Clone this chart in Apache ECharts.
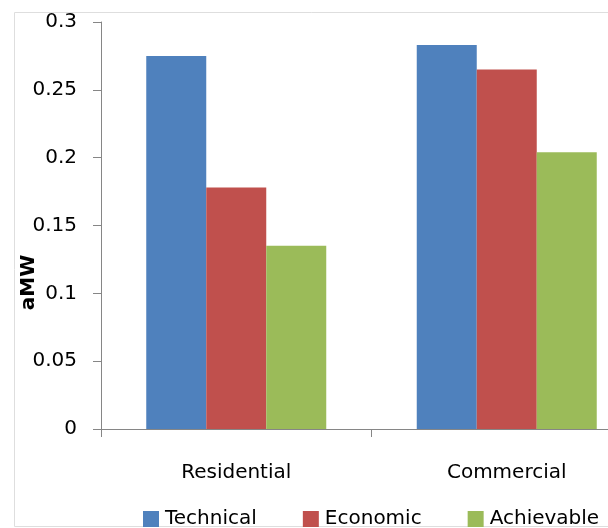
<!DOCTYPE html>
<html><head><meta charset="utf-8">
<script src="https://cdn.jsdelivr.net/npm/echarts@6/dist/echarts.min.js"></script>
<style>html,body{margin:0;padding:0;background:#fff}#c{width:608px;height:528px}</style>
</head><body><div id="c"></div>
<script>
var categories = ['Residential', 'Commercial'];
var technical = [0.275, 0.283];
var economic = [0.178, 0.265];
var achievable = [0.135, 0.204];
var seriesNames = ['Technical', 'Economic', 'Achievable'];

var font = 'DejaVu Sans';
var chart = echarts.init(document.getElementById('c'), null, {renderer: 'canvas'});
chart.setOption({
  animation: false,
  backgroundColor: '#fff',
  color: ['#4F81BD', '#C0504D', '#9BBB59'],
  textStyle: {fontFamily: font},
  graphic: [{
    type: 'rect', silent: true, z: -1,
    shape: {x: 14.5, y: 12.5, width: 700, height: 514},
    style: {fill: '#fff', stroke: '#dedede', lineWidth: 1}
  }],
  grid: {left: 101, top: 22, width: 541, height: 407, containLabel: false, outerBoundsMode: 'none'},
  legend: {
    data: seriesNames, left: 143, top: 509, padding: 0, itemWidth: 16, itemHeight: 16,
    itemGap: 46, icon: 'rect',
    textStyle: {fontFamily: font, fontSize: 20, color: '#000', padding: [0, 0, 0, 1]}
  },
  xAxis: {
    type: 'category', data: categories,
    axisLine: {lineStyle: {color: '#868686', width: 1}},
    axisTick: {show: true, length: 8, lineStyle: {color: '#868686'}},
    axisLabel: {fontFamily: font, fontSize: 20, color: '#000', margin: 34}
  },
  yAxis: {
    type: 'value', min: 0, max: 0.3, interval: 0.05,
    name: 'aMW', nameLocation: 'middle', nameGap: 62, nameMoveOverlap: false,
    nameTextStyle: {fontFamily: font, fontSize: 20, fontWeight: 'bold', color: '#000', padding: [0, 114, 0, 0]},
    axisLine: {show: true, lineStyle: {color: '#868686', width: 1}},
    axisTick: {show: true, inside: false, length: 8, lineStyle: {color: '#868686'}},
    splitLine: {show: false},
    axisLabel: {fontFamily: font, fontSize: 20, color: '#000', margin: 24,
      formatter: function (v) { return String(+v.toFixed(2)); }}
  },
  series: [
    {name: seriesNames[0], type: 'bar', data: technical, barWidth: 60, barGap: '0%'},
    {name: seriesNames[1], type: 'bar', data: economic, barWidth: 60, barGap: '0%'},
    {name: seriesNames[2], type: 'bar', data: achievable, barWidth: 60, barGap: '0%'}
  ]
});
</script></body></html>
